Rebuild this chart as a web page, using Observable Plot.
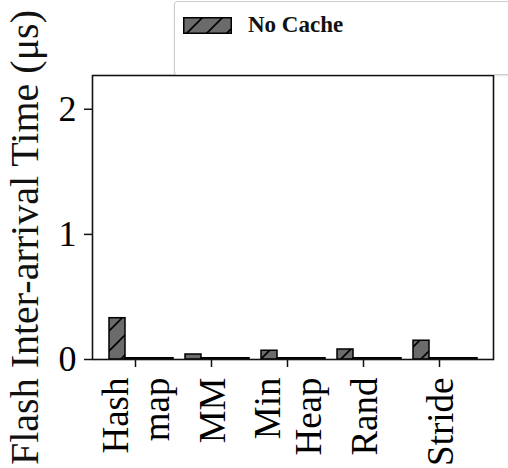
<!DOCTYPE html>
<html><head><meta charset="utf-8">
<script src="https://cdn.jsdelivr.net/npm/d3@7"></script>
<script src="https://cdn.jsdelivr.net/npm/@observablehq/plot@0.6"></script>
<style>
body{margin:0;background:#fff;}
#wrap{position:relative;width:508px;height:468px;overflow:hidden;font-family:"Liberation Serif",serif;}
#legend{position:absolute;left:174px;top:1px;width:345px;height:72px;border:1px solid #cfcfcf;border-radius:3px;background:#fff;box-shadow:0 1px 2px rgba(0,0,0,0.12);}
#legend .item{position:absolute;left:8px;top:10px;display:flex;align-items:center;}
#legend .lab{font-weight:bold;font-size:23px;margin-left:16px;color:#111;}
</style></head><body><div id="wrap"></div>
<script>
const categories = ["Hash map", "MM", "Min Heap", "Rand", "Stride"];
const tickLabels = ["Hash\nmap", "MM", "Min\nHeap", "Rand", "Stride"];
const seriesNames = ["No Cache", "Series 2", "Series 3", "Series 4"];
const noCache = [0.33, 0.04, 0.07, 0.08, 0.15];
const series2 = [0.01, 0.01, 0.01, 0.01, 0.01];
const series3 = [0.01, 0.01, 0.01, 0.01, 0.01];
const series4 = [0.01, 0.01, 0.01, 0.01, 0.01];
const yTicks = [0, 1, 2];
const yLabel = "Flash Inter-arrival Time (μs)";

const values = [noCache, series2, series3, series4];
const data = [];
seriesNames.forEach((s, i) => categories.forEach((c, j) => data.push({series: s, si: i, category: c, value: values[i][j]})));

const nS = seriesNames.length;
const sub = 16;
const plot = Plot.plot({
  width: 508, height: 468,
  marginTop: 75, marginBottom: 109, marginLeft: 92, marginRight: 15,
  style: {fontFamily: '"Liberation Serif", serif', background: "transparent", color: "#000", overflow: "visible"},
  x: {domain: categories, paddingInner: 0.158, paddingOuter: 0.2},
  y: {domain: [0, 2.27]},
  marks: [
    ...seriesNames.map((s, i) => Plot.barY(data.filter(d => d.si === i), {
      x: "category", y: "value",
      fill: i === 0 ? "url(#hatch)" : "#fff",
      stroke: "#000", strokeWidth: 1.5,
      insetLeft: sub * i, insetRight: sub * (nS - 1 - i)
    })),
    Plot.frame({stroke: "#111", strokeWidth: 1.6}),
    Plot.axisY({ticks: yTicks, tickFormat: d3.format("d"), tickSize: 8, tickPadding: 8, fontSize: 36, label: null, stroke: "#111", strokeWidth: 1.5}),
    Plot.axisX({tickSize: 8, tickPadding: 10, tickRotate: -90, fontSize: 37, lineHeight: 1.12, dx: -6,
      tickFormat: d => tickLabels[categories.indexOf(d)], label: null, stroke: "#111", strokeWidth: 1.5}),
    Plot.text([yLabel], {frameAnchor: "left", text: d => d, rotate: -90, dx: -67, dy: 20, fontSize: 40, textAnchor: "middle", fill: "#111"})
  ]
});

d3.select(plot).insert("defs", ":first-child").html(
  '<pattern id="hatch" patternUnits="userSpaceOnUse" width="20" height="20">' +
  '<rect width="20" height="20" fill="#6b6b6b"/>' +
  '<path d="M0,20 L20,0 M-5,5 L5,-5 M15,25 L25,15" stroke="#000" stroke-width="1.6"/>' +
  '</pattern>');

const wrap = document.getElementById("wrap");
wrap.appendChild(plot);

const legend = document.createElement("div");
legend.id = "legend";
legend.innerHTML = '<div class="item"><svg width="49" height="17"><rect x="0.75" y="0.75" width="47.5" height="15.5" fill="url(#hatch)" stroke="#000" stroke-width="1.5"/></svg><span class="lab">' + seriesNames[0] + '</span></div>';
wrap.appendChild(legend);
</script>
</body></html>
